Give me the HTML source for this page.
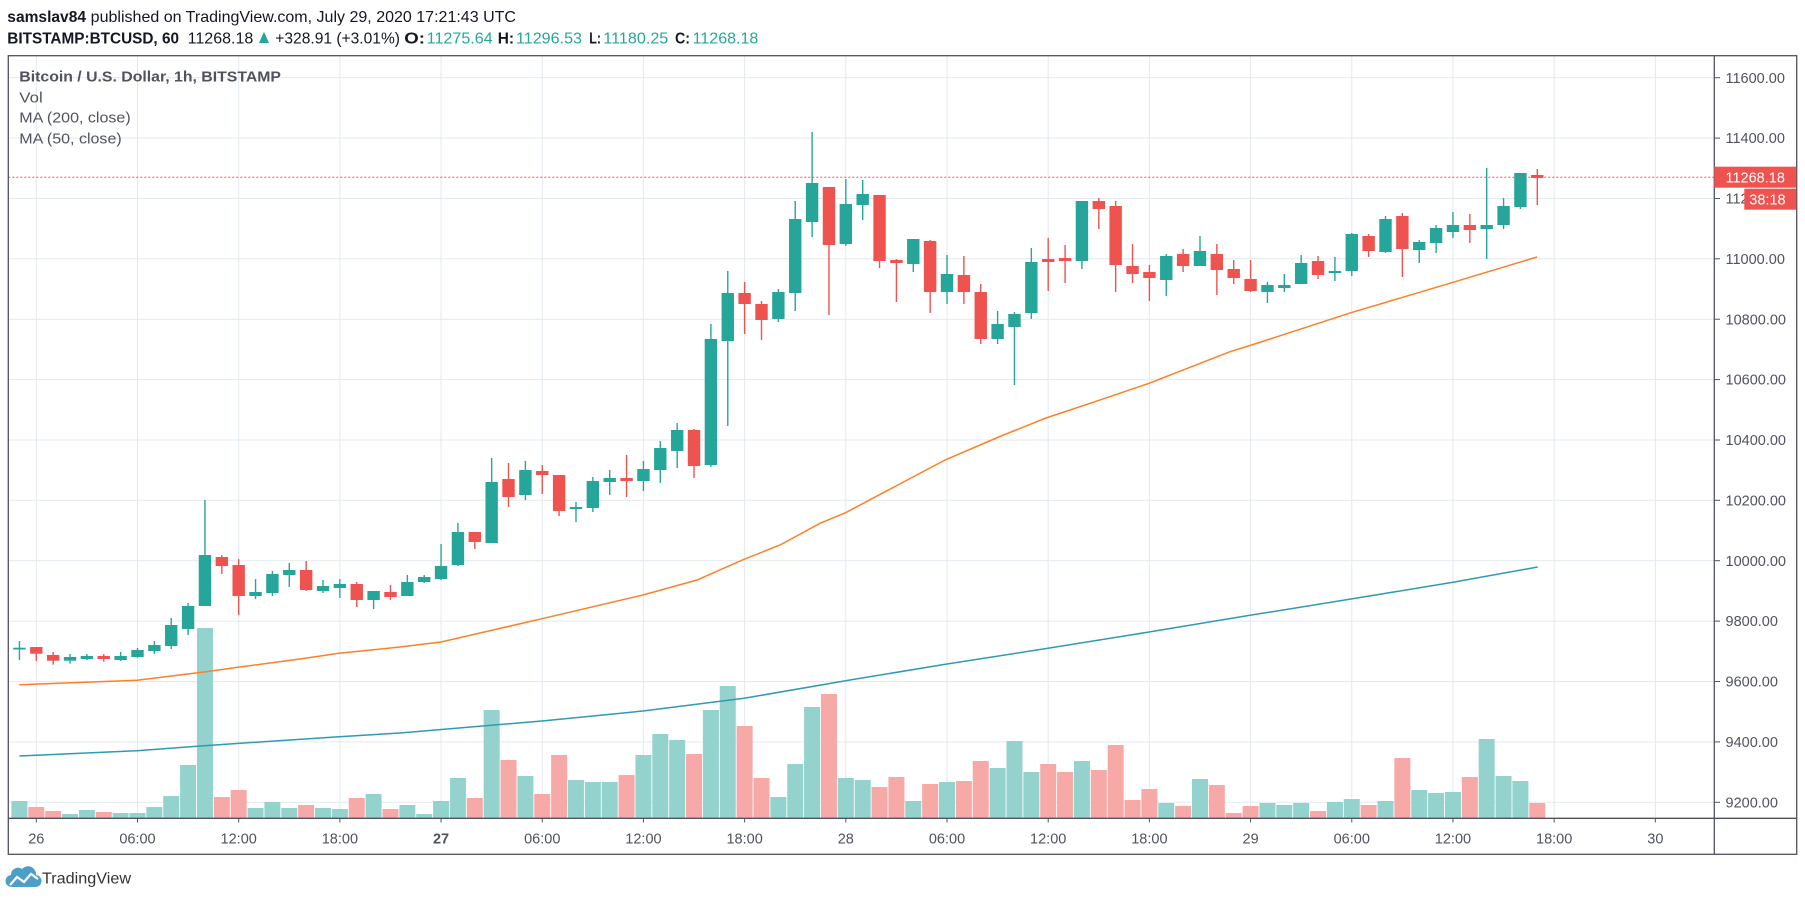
<!DOCTYPE html>
<html>
<head>
<meta charset="utf-8">
<style>
html,body{margin:0;padding:0;background:#fff;}
svg{display:block;}
text{font-family:"Liberation Sans",sans-serif;}
.u{fill:#26a69a;}
.d{fill:#ef5350;}
.vu{fill:#94d3cd;}
.vd{fill:#f7a9a8;}
.ax{fill:#50535e;font-size:14.5px;}
</style>
</head>
<body>
<svg width="1805" height="901" viewBox="0 0 1805 901" xmlns="http://www.w3.org/2000/svg">
<rect x="0" y="0" width="1805" height="901" fill="#fff"/>

<!-- header -->
<text x="7.3" y="22" font-size="16" font-weight="bold" fill="#131722" textLength="78.7" lengthAdjust="spacingAndGlyphs">samslav84</text>
<text x="90.7" y="22" font-size="16" fill="#131722" textLength="425.3" lengthAdjust="spacingAndGlyphs">published on TradingView.com, July 29, 2020 17:21:43 UTC</text>
<text x="7.3" y="43.3" font-size="15.5" font-weight="bold" fill="#131722" textLength="171.7" lengthAdjust="spacingAndGlyphs">BITSTAMP:BTCUSD, 60</text>
<text x="187.7" y="43.3" font-size="15.5" fill="#131722" textLength="65.6" lengthAdjust="spacingAndGlyphs">11268.18</text>
<polygon points="259,43 269,43 264,31.7" fill="#26a69a"/>
<text x="275.3" y="43.3" font-size="15.5" fill="#131722" textLength="124.7" lengthAdjust="spacingAndGlyphs">+328.91 (+3.01%)</text>
<text x="404.3" y="43.3" font-size="15.5" font-weight="bold" fill="#131722" textLength="20.7" lengthAdjust="spacingAndGlyphs">O:</text>
<text x="426.7" y="43.3" font-size="15.5" fill="#26a69a" textLength="66" lengthAdjust="spacingAndGlyphs">11275.64</text>
<text x="497.7" y="43.3" font-size="15.5" font-weight="bold" fill="#131722" textLength="16.3" lengthAdjust="spacingAndGlyphs">H:</text>
<text x="516" y="43.3" font-size="15.5" fill="#26a69a" textLength="66" lengthAdjust="spacingAndGlyphs">11296.53</text>
<text x="589.3" y="43.3" font-size="15.5" font-weight="bold" fill="#131722" textLength="11.7" lengthAdjust="spacingAndGlyphs">L:</text>
<text x="603.3" y="43.3" font-size="15.5" fill="#26a69a" textLength="65" lengthAdjust="spacingAndGlyphs">11180.25</text>
<text x="675" y="43.3" font-size="15.5" font-weight="bold" fill="#131722" textLength="15" lengthAdjust="spacingAndGlyphs">C:</text>
<text x="692.7" y="43.3" font-size="15.5" fill="#26a69a" textLength="65.6" lengthAdjust="spacingAndGlyphs">11268.18</text>

<!-- grid -->
<g stroke="#e2e9ef" stroke-width="1">
<line x1="8.3" x2="1714.3" y1="77.7" y2="77.7"/>
<line x1="8.3" x2="1714.3" y1="138.1" y2="138.1"/>
<line x1="8.3" x2="1714.3" y1="198.5" y2="198.5"/>
<line x1="8.3" x2="1714.3" y1="258.8" y2="258.8"/>
<line x1="8.3" x2="1714.3" y1="319.2" y2="319.2"/>
<line x1="8.3" x2="1714.3" y1="379.6" y2="379.6"/>
<line x1="8.3" x2="1714.3" y1="440" y2="440"/>
<line x1="8.3" x2="1714.3" y1="500.3" y2="500.3"/>
<line x1="8.3" x2="1714.3" y1="560.7" y2="560.7"/>
<line x1="8.3" x2="1714.3" y1="621.1" y2="621.1"/>
<line x1="8.3" x2="1714.3" y1="681.5" y2="681.5"/>
<line x1="8.3" x2="1714.3" y1="741.9" y2="741.9"/>
<line x1="8.3" x2="1714.3" y1="802.3" y2="802.3"/>
<line y1="55.7" y2="818.3" x1="36.3" x2="36.3"/>
<line y1="55.7" y2="818.3" x1="137.49" x2="137.49"/>
<line y1="55.7" y2="818.3" x1="238.68" x2="238.68"/>
<line y1="55.7" y2="818.3" x1="339.87" x2="339.87"/>
<line y1="55.7" y2="818.3" x1="441.06" x2="441.06"/>
<line y1="55.7" y2="818.3" x1="542.25" x2="542.25"/>
<line y1="55.7" y2="818.3" x1="643.44" x2="643.44"/>
<line y1="55.7" y2="818.3" x1="744.63" x2="744.63"/>
<line y1="55.7" y2="818.3" x1="845.82" x2="845.82"/>
<line y1="55.7" y2="818.3" x1="947.01" x2="947.01"/>
<line y1="55.7" y2="818.3" x1="1048.2" x2="1048.2"/>
<line y1="55.7" y2="818.3" x1="1149.39" x2="1149.39"/>
<line y1="55.7" y2="818.3" x1="1250.58" x2="1250.58"/>
<line y1="55.7" y2="818.3" x1="1351.77" x2="1351.77"/>
<line y1="55.7" y2="818.3" x1="1452.96" x2="1452.96"/>
<line y1="55.7" y2="818.3" x1="1554.15" x2="1554.15"/>
<line y1="55.7" y2="818.3" x1="1655.34" x2="1655.34"/>
</g>

<!-- pane legend -->
<text x="19.3" y="81.7" font-size="15" font-weight="bold" fill="#50535e" textLength="261.7" lengthAdjust="spacingAndGlyphs">Bitcoin / U.S. Dollar, 1h, BITSTAMP</text>
<text x="19.3" y="102.7" font-size="15" fill="#50535e" textLength="23.4" lengthAdjust="spacingAndGlyphs">Vol</text>
<text x="19.3" y="122.7" font-size="15" fill="#50535e" textLength="111.4" lengthAdjust="spacingAndGlyphs">MA (200, close)</text>
<text x="19.3" y="143.3" font-size="15" fill="#50535e" textLength="102.4" lengthAdjust="spacingAndGlyphs">MA (50, close)</text>

<!-- volume green -->
<g class="vu">
<rect x="11.44" y="801" width="16" height="17.3"/>
<rect x="62.03" y="814" width="16" height="4.3"/>
<rect x="78.9" y="810" width="16" height="8.3"/>
<rect x="112.63" y="813" width="16" height="5.3"/>
<rect x="129.49" y="813" width="16" height="5.3"/>
<rect x="146.36" y="807" width="16" height="11.3"/>
<rect x="163.22" y="796" width="16" height="22.3"/>
<rect x="180.09" y="765" width="16" height="53.3"/>
<rect x="196.95" y="628" width="16" height="190.3"/>
<rect x="247.55" y="808" width="16" height="10.3"/>
<rect x="264.41" y="802" width="16" height="16.3"/>
<rect x="281.28" y="808" width="16" height="10.3"/>
<rect x="315.01" y="808" width="16" height="10.3"/>
<rect x="331.87" y="809" width="16" height="9.3"/>
<rect x="365.6" y="794" width="16" height="24.3"/>
<rect x="399.33" y="805" width="16" height="13.3"/>
<rect x="416.2" y="814" width="16" height="4.3"/>
<rect x="433.06" y="801" width="16" height="17.3"/>
<rect x="449.93" y="778" width="16" height="40.3"/>
<rect x="483.66" y="710" width="16" height="108.3"/>
<rect x="517.39" y="776" width="16" height="42.3"/>
<rect x="567.98" y="780" width="16" height="38.3"/>
<rect x="584.85" y="782" width="16" height="36.3"/>
<rect x="601.71" y="782" width="16" height="36.3"/>
<rect x="635.44" y="755" width="16" height="63.3"/>
<rect x="652.31" y="734" width="16" height="84.3"/>
<rect x="669.17" y="740" width="16" height="78.3"/>
<rect x="702.9" y="710" width="16" height="108.3"/>
<rect x="719.77" y="686" width="16" height="132.3"/>
<rect x="770.36" y="797" width="16" height="21.3"/>
<rect x="787.23" y="764" width="16" height="54.3"/>
<rect x="804.09" y="707" width="16" height="111.3"/>
<rect x="837.82" y="778" width="16" height="40.3"/>
<rect x="854.69" y="780" width="16" height="38.3"/>
<rect x="905.28" y="801" width="16" height="17.3"/>
<rect x="939.01" y="782" width="16" height="36.3"/>
<rect x="989.61" y="768" width="16" height="50.3"/>
<rect x="1006.47" y="741" width="16" height="77.3"/>
<rect x="1023.34" y="772" width="16" height="46.3"/>
<rect x="1073.93" y="761" width="16" height="57.3"/>
<rect x="1158.26" y="803" width="16" height="15.3"/>
<rect x="1191.99" y="779" width="16" height="39.3"/>
<rect x="1259.45" y="803" width="16" height="15.3"/>
<rect x="1276.31" y="805" width="16" height="13.3"/>
<rect x="1293.18" y="803" width="16" height="15.3"/>
<rect x="1326.91" y="802" width="16" height="16.3"/>
<rect x="1343.77" y="799" width="16" height="19.3"/>
<rect x="1377.5" y="801" width="16" height="17.3"/>
<rect x="1411.23" y="790" width="16" height="28.3"/>
<rect x="1428.1" y="793" width="16" height="25.3"/>
<rect x="1444.96" y="792" width="16" height="26.3"/>
<rect x="1478.69" y="739" width="16" height="79.3"/>
<rect x="1495.56" y="776" width="16" height="42.3"/>
<rect x="1512.42" y="781" width="16" height="37.3"/>
</g>
<!-- volume red -->
<g class="vd">
<rect x="28.3" y="807" width="16" height="11.3"/>
<rect x="45.17" y="811" width="16" height="7.3"/>
<rect x="95.76" y="812" width="16" height="6.3"/>
<rect x="213.82" y="797" width="16" height="21.3"/>
<rect x="230.68" y="790" width="16" height="28.3"/>
<rect x="298.14" y="805" width="16" height="13.3"/>
<rect x="348.74" y="798" width="16" height="20.3"/>
<rect x="382.47" y="809" width="16" height="9.3"/>
<rect x="466.79" y="798" width="16" height="20.3"/>
<rect x="500.52" y="760" width="16" height="58.3"/>
<rect x="534.25" y="794" width="16" height="24.3"/>
<rect x="551.12" y="755" width="16" height="63.3"/>
<rect x="618.58" y="775" width="16" height="43.3"/>
<rect x="686.04" y="754" width="16" height="64.3"/>
<rect x="736.63" y="726" width="16" height="92.3"/>
<rect x="753.5" y="778" width="16" height="40.3"/>
<rect x="820.96" y="694" width="16" height="124.3"/>
<rect x="871.55" y="787" width="16" height="31.3"/>
<rect x="888.42" y="777" width="16" height="41.3"/>
<rect x="922.15" y="784" width="16" height="34.3"/>
<rect x="955.88" y="781" width="16" height="37.3"/>
<rect x="972.74" y="761" width="16" height="57.3"/>
<rect x="1040.2" y="764" width="16" height="54.3"/>
<rect x="1057.07" y="772" width="16" height="46.3"/>
<rect x="1090.8" y="770" width="16" height="48.3"/>
<rect x="1107.66" y="745" width="16" height="73.3"/>
<rect x="1124.53" y="800" width="16" height="18.3"/>
<rect x="1141.39" y="789" width="16" height="29.3"/>
<rect x="1175.12" y="806" width="16" height="12.3"/>
<rect x="1208.85" y="785" width="16" height="33.3"/>
<rect x="1225.72" y="813" width="16" height="5.3"/>
<rect x="1242.58" y="806" width="16" height="12.3"/>
<rect x="1310.04" y="811" width="16" height="7.3"/>
<rect x="1360.64" y="805" width="16" height="13.3"/>
<rect x="1394.37" y="758" width="16" height="60.3"/>
<rect x="1461.83" y="777" width="16" height="41.3"/>
<rect x="1529.29" y="803" width="16" height="15.3"/>
</g>

<!-- moving averages -->
<polyline fill="none" stroke="#2f9ab3" stroke-width="1.5" points="19.4,756 137,750.7 204,745.7 339,736.7 400,733 542,721 643,711 744,698.3 850,680 947,664 1048,648.3 1149,632 1250,615.3 1351,599 1453,582.3 1537.7,567"/>
<polyline fill="none" stroke="#ff7f26" stroke-width="1.5" points="19.4,684.7 137,680.3 204,672 238,667.3 300,659 339,653.3 400,647 441,642 542,618.7 643,595 697,580 744,559.3 780,545 820,523.3 845,513 945,460 1001,436 1046,418 1102,399.3 1149,383.3 1230,351.7 1250,345.5 1351,312.7 1453,282.3 1537,257"/>

<!-- candles green -->
<g class="u">
<rect x="18.74" y="641" width="1.4" height="19"/><rect x="13.24" y="647.7" width="12.4" height="1.8"/>
<rect x="69.33" y="654" width="1.4" height="9.7"/><rect x="63.83" y="657" width="12.4" height="3.7"/>
<rect x="86.2" y="654" width="1.4" height="6"/><rect x="80.7" y="656" width="12.4" height="3"/>
<rect x="119.93" y="652" width="1.4" height="9"/><rect x="114.43" y="656" width="12.4" height="4"/>
<rect x="136.79" y="648" width="1.4" height="10"/><rect x="131.29" y="650" width="12.4" height="7"/>
<rect x="153.66" y="641" width="1.4" height="13"/><rect x="148.16" y="645" width="12.4" height="6"/>
<rect x="170.52" y="618" width="1.4" height="31"/><rect x="165.02" y="625" width="12.4" height="21"/>
<rect x="187.39" y="603" width="1.4" height="32"/><rect x="181.89" y="606" width="12.4" height="23"/>
<rect x="204.25" y="500" width="1.4" height="106"/><rect x="198.75" y="555" width="12.4" height="51"/>
<rect x="254.85" y="579" width="1.4" height="20"/><rect x="249.35" y="592" width="12.4" height="4"/>
<rect x="271.71" y="571" width="1.4" height="25"/><rect x="266.21" y="574" width="12.4" height="19"/>
<rect x="288.58" y="563" width="1.4" height="24"/><rect x="283.08" y="570" width="12.4" height="5"/>
<rect x="322.31" y="580" width="1.4" height="13"/><rect x="316.81" y="586" width="12.4" height="5"/>
<rect x="339.17" y="579" width="1.4" height="19"/><rect x="333.67" y="584" width="12.4" height="4"/>
<rect x="372.9" y="591" width="1.4" height="18"/><rect x="367.4" y="591" width="12.4" height="9"/>
<rect x="406.63" y="575" width="1.4" height="21"/><rect x="401.13" y="582" width="12.4" height="14"/>
<rect x="423.5" y="575" width="1.4" height="8"/><rect x="418" y="577" width="12.4" height="5"/>
<rect x="440.36" y="544" width="1.4" height="36"/><rect x="434.86" y="566" width="12.4" height="13"/>
<rect x="457.23" y="523" width="1.4" height="43"/><rect x="451.73" y="532" width="12.4" height="33"/>
<rect x="490.96" y="458" width="1.4" height="85"/><rect x="485.46" y="482" width="12.4" height="61"/>
<rect x="524.69" y="461" width="1.4" height="39"/><rect x="519.19" y="470" width="12.4" height="25"/>
<rect x="575.28" y="502" width="1.4" height="20"/><rect x="569.78" y="507" width="12.4" height="2"/>
<rect x="592.15" y="477" width="1.4" height="35"/><rect x="586.65" y="481" width="12.4" height="27"/>
<rect x="609.01" y="470" width="1.4" height="25"/><rect x="603.51" y="478" width="12.4" height="4"/>
<rect x="642.74" y="461" width="1.4" height="30"/><rect x="637.24" y="469" width="12.4" height="12"/>
<rect x="659.61" y="441" width="1.4" height="42"/><rect x="654.11" y="448" width="12.4" height="22"/>
<rect x="676.47" y="423" width="1.4" height="45"/><rect x="670.97" y="430" width="12.4" height="21"/>
<rect x="710.2" y="324" width="1.4" height="143"/><rect x="704.7" y="339" width="12.4" height="126"/>
<rect x="727.07" y="271" width="1.4" height="155"/><rect x="721.57" y="293" width="12.4" height="48"/>
<rect x="777.66" y="289" width="1.4" height="33"/><rect x="772.16" y="292" width="12.4" height="27"/>
<rect x="794.53" y="201" width="1.4" height="110"/><rect x="789.03" y="219" width="12.4" height="74"/>
<rect x="811.39" y="132" width="1.4" height="105"/><rect x="805.89" y="183" width="12.4" height="39"/>
<rect x="845.12" y="179" width="1.4" height="67"/><rect x="839.62" y="204" width="12.4" height="40"/>
<rect x="861.99" y="180" width="1.4" height="40"/><rect x="856.49" y="194" width="12.4" height="11"/>
<rect x="912.58" y="239" width="1.4" height="33"/><rect x="907.08" y="239" width="12.4" height="25"/>
<rect x="946.31" y="255" width="1.4" height="49"/><rect x="940.81" y="274" width="12.4" height="18"/>
<rect x="996.91" y="311" width="1.4" height="33"/><rect x="991.41" y="324" width="12.4" height="15"/>
<rect x="1013.77" y="312" width="1.4" height="73"/><rect x="1008.27" y="314" width="12.4" height="13"/>
<rect x="1030.64" y="248" width="1.4" height="71"/><rect x="1025.14" y="262" width="12.4" height="51"/>
<rect x="1081.23" y="201" width="1.4" height="68"/><rect x="1075.73" y="201" width="12.4" height="60"/>
<rect x="1165.56" y="254" width="1.4" height="42"/><rect x="1160.06" y="256" width="12.4" height="24"/>
<rect x="1199.29" y="236" width="1.4" height="30"/><rect x="1193.79" y="251" width="12.4" height="15"/>
<rect x="1266.75" y="282" width="1.4" height="21"/><rect x="1261.25" y="285" width="12.4" height="7"/>
<rect x="1283.61" y="274" width="1.4" height="18"/><rect x="1278.11" y="285" width="12.4" height="3"/>
<rect x="1300.48" y="255" width="1.4" height="29"/><rect x="1294.98" y="263" width="12.4" height="21"/>
<rect x="1334.21" y="257" width="1.4" height="24"/><rect x="1328.71" y="271" width="12.4" height="2"/>
<rect x="1351.07" y="233" width="1.4" height="43"/><rect x="1345.57" y="234" width="12.4" height="37"/>
<rect x="1384.8" y="216" width="1.4" height="37"/><rect x="1379.3" y="219" width="12.4" height="33"/>
<rect x="1418.53" y="240" width="1.4" height="23"/><rect x="1413.03" y="242" width="12.4" height="8"/>
<rect x="1435.4" y="225" width="1.4" height="28"/><rect x="1429.9" y="228" width="12.4" height="15"/>
<rect x="1452.26" y="212" width="1.4" height="26"/><rect x="1446.76" y="225" width="12.4" height="7"/>
<rect x="1485.99" y="168" width="1.4" height="91"/><rect x="1480.49" y="225" width="12.4" height="4"/>
<rect x="1502.86" y="198" width="1.4" height="31"/><rect x="1497.36" y="206" width="12.4" height="19"/>
<rect x="1519.72" y="173" width="1.4" height="36"/><rect x="1514.22" y="173" width="12.4" height="34"/>
</g>
<!-- candles red -->
<g class="d">
<rect x="35.6" y="647" width="1.4" height="14"/><rect x="30.1" y="647" width="12.4" height="6.7"/>
<rect x="52.47" y="652" width="1.4" height="12.7"/><rect x="46.97" y="655" width="12.4" height="5.7"/>
<rect x="103.06" y="654" width="1.4" height="7.7"/><rect x="97.56" y="656" width="12.4" height="3"/>
<rect x="221.12" y="555" width="1.4" height="19"/><rect x="215.62" y="557" width="12.4" height="9"/>
<rect x="237.98" y="559" width="1.4" height="56"/><rect x="232.48" y="565" width="12.4" height="31"/>
<rect x="305.44" y="561" width="1.4" height="30"/><rect x="299.94" y="570" width="12.4" height="20"/>
<rect x="356.04" y="582" width="1.4" height="25"/><rect x="350.54" y="584" width="12.4" height="16"/>
<rect x="389.77" y="585" width="1.4" height="15"/><rect x="384.27" y="592" width="12.4" height="5"/>
<rect x="474.09" y="532" width="1.4" height="17"/><rect x="468.59" y="532" width="12.4" height="10"/>
<rect x="507.82" y="463" width="1.4" height="44"/><rect x="502.32" y="479" width="12.4" height="18"/>
<rect x="541.55" y="465" width="1.4" height="29"/><rect x="536.05" y="471" width="12.4" height="4"/>
<rect x="558.42" y="475" width="1.4" height="41"/><rect x="552.92" y="475" width="12.4" height="36"/>
<rect x="625.88" y="455" width="1.4" height="42"/><rect x="620.38" y="478" width="12.4" height="3"/>
<rect x="693.34" y="429" width="1.4" height="49"/><rect x="687.84" y="430" width="12.4" height="36"/>
<rect x="743.93" y="282" width="1.4" height="52"/><rect x="738.43" y="293" width="12.4" height="11"/>
<rect x="760.8" y="301" width="1.4" height="39"/><rect x="755.3" y="304" width="12.4" height="16"/>
<rect x="828.26" y="187" width="1.4" height="128"/><rect x="822.76" y="187" width="12.4" height="58"/>
<rect x="878.85" y="195" width="1.4" height="73"/><rect x="873.35" y="195" width="12.4" height="66"/>
<rect x="895.72" y="259" width="1.4" height="43"/><rect x="890.22" y="260" width="12.4" height="3"/>
<rect x="929.45" y="240" width="1.4" height="73"/><rect x="923.95" y="241" width="12.4" height="51"/>
<rect x="963.18" y="256" width="1.4" height="48"/><rect x="957.68" y="275" width="12.4" height="17"/>
<rect x="980.04" y="284" width="1.4" height="60"/><rect x="974.54" y="292" width="12.4" height="47"/>
<rect x="1047.5" y="238" width="1.4" height="53"/><rect x="1042" y="259" width="12.4" height="3"/>
<rect x="1064.37" y="245" width="1.4" height="38"/><rect x="1058.87" y="258" width="12.4" height="3"/>
<rect x="1098.1" y="198" width="1.4" height="31"/><rect x="1092.6" y="201" width="12.4" height="8"/>
<rect x="1114.96" y="201" width="1.4" height="91"/><rect x="1109.46" y="206" width="12.4" height="59"/>
<rect x="1131.83" y="244" width="1.4" height="39"/><rect x="1126.33" y="266" width="12.4" height="8"/>
<rect x="1148.69" y="265" width="1.4" height="36"/><rect x="1143.19" y="272" width="12.4" height="6"/>
<rect x="1182.42" y="249" width="1.4" height="23"/><rect x="1176.92" y="254" width="12.4" height="12"/>
<rect x="1216.15" y="244" width="1.4" height="51"/><rect x="1210.65" y="254" width="12.4" height="16"/>
<rect x="1233.02" y="260" width="1.4" height="24"/><rect x="1227.52" y="269" width="12.4" height="9"/>
<rect x="1249.88" y="260" width="1.4" height="32"/><rect x="1244.38" y="279" width="12.4" height="12"/>
<rect x="1317.34" y="256" width="1.4" height="23"/><rect x="1311.84" y="261" width="12.4" height="14"/>
<rect x="1367.94" y="234" width="1.4" height="23"/><rect x="1362.44" y="236" width="12.4" height="15"/>
<rect x="1401.67" y="213" width="1.4" height="64"/><rect x="1396.17" y="216" width="12.4" height="33"/>
<rect x="1469.13" y="214" width="1.4" height="29"/><rect x="1463.63" y="225" width="12.4" height="5"/>
<rect x="1536.59" y="169" width="1.4" height="36"/><rect x="1531.09" y="175" width="12.4" height="3"/>
</g>

<!-- current price line -->
<line x1="8.3" x2="1714.3" y1="177.3" y2="177.3" stroke="#ef5350" stroke-width="1" stroke-dasharray="2,2"/>

<!-- frame -->
<g stroke="#50535e" stroke-width="1.3" fill="none">
<rect x="8.3" y="55.7" width="1788.4" height="798.6"/>
<line x1="8.3" x2="1796.7" y1="818.3" y2="818.3"/>
<line x1="1714.3" x2="1714.3" y1="55.7" y2="854.3"/>
</g>

<!-- price axis ticks -->
<g stroke="#50535e" stroke-width="1">
<line x1="1714.3" x2="1720" y1="77.7" y2="77.7"/>
<line x1="1714.3" x2="1720" y1="138.1" y2="138.1"/>
<line x1="1714.3" x2="1720" y1="198.5" y2="198.5"/>
<line x1="1714.3" x2="1720" y1="258.8" y2="258.8"/>
<line x1="1714.3" x2="1720" y1="319.2" y2="319.2"/>
<line x1="1714.3" x2="1720" y1="379.6" y2="379.6"/>
<line x1="1714.3" x2="1720" y1="440" y2="440"/>
<line x1="1714.3" x2="1720" y1="500.3" y2="500.3"/>
<line x1="1714.3" x2="1720" y1="560.7" y2="560.7"/>
<line x1="1714.3" x2="1720" y1="621.1" y2="621.1"/>
<line x1="1714.3" x2="1720" y1="681.5" y2="681.5"/>
<line x1="1714.3" x2="1720" y1="741.9" y2="741.9"/>
<line x1="1714.3" x2="1720" y1="802.3" y2="802.3"/>
</g>
<!-- price labels -->
<g class="ax">
<text x="1725.5" y="82.8">11600.00</text>
<text x="1725.5" y="143.2">11400.00</text>
<text x="1725.5" y="203.6">11200.00</text>
<text x="1725.5" y="263.9">11000.00</text>
<text x="1725.5" y="324.3">10800.00</text>
<text x="1725.5" y="384.7">10600.00</text>
<text x="1725.5" y="445.1">10400.00</text>
<text x="1725.5" y="505.4">10200.00</text>
<text x="1725.5" y="565.8">10000.00</text>
<text x="1725.5" y="626.2">9800.00</text>
<text x="1725.5" y="686.6">9600.00</text>
<text x="1725.5" y="747">9400.00</text>
<text x="1725.5" y="807.4">9200.00</text>
</g>
<!-- current price badges -->
<rect x="1714.3" y="166.7" width="82" height="21" fill="#ef5350"/>
<text x="1725.5" y="182.4" font-size="14.5" fill="#fff">11268.18</text>
<rect x="1744.3" y="188.7" width="52" height="21" fill="#ef5350"/>
<text x="1749.3" y="204.4" font-size="14.5" fill="#fff">38:18</text>

<!-- time axis ticks -->
<g stroke="#50535e" stroke-width="1">
<line y1="818.3" y2="822.5" x1="36.3" x2="36.3"/>
<line y1="818.3" y2="822.5" x1="137.49" x2="137.49"/>
<line y1="818.3" y2="822.5" x1="238.68" x2="238.68"/>
<line y1="818.3" y2="822.5" x1="339.87" x2="339.87"/>
<line y1="818.3" y2="822.5" x1="441.06" x2="441.06"/>
<line y1="818.3" y2="822.5" x1="542.25" x2="542.25"/>
<line y1="818.3" y2="822.5" x1="643.44" x2="643.44"/>
<line y1="818.3" y2="822.5" x1="744.63" x2="744.63"/>
<line y1="818.3" y2="822.5" x1="845.82" x2="845.82"/>
<line y1="818.3" y2="822.5" x1="947.01" x2="947.01"/>
<line y1="818.3" y2="822.5" x1="1048.2" x2="1048.2"/>
<line y1="818.3" y2="822.5" x1="1149.39" x2="1149.39"/>
<line y1="818.3" y2="822.5" x1="1250.58" x2="1250.58"/>
<line y1="818.3" y2="822.5" x1="1351.77" x2="1351.77"/>
<line y1="818.3" y2="822.5" x1="1452.96" x2="1452.96"/>
<line y1="818.3" y2="822.5" x1="1554.15" x2="1554.15"/>
<line y1="818.3" y2="822.5" x1="1655.34" x2="1655.34"/>
</g>
<g class="ax" text-anchor="middle">
<text x="36.3" y="843.3">26</text>
<text x="137.49" y="843.3">06:00</text>
<text x="238.68" y="843.3">12:00</text>
<text x="339.87" y="843.3">18:00</text>
<text x="441.06" y="843.3" font-weight="bold">27</text>
<text x="542.25" y="843.3">06:00</text>
<text x="643.44" y="843.3">12:00</text>
<text x="744.63" y="843.3">18:00</text>
<text x="845.82" y="843.3">28</text>
<text x="947.01" y="843.3">06:00</text>
<text x="1048.2" y="843.3">12:00</text>
<text x="1149.39" y="843.3">18:00</text>
<text x="1250.58" y="843.3">29</text>
<text x="1351.77" y="843.3">06:00</text>
<text x="1452.96" y="843.3">12:00</text>
<text x="1554.15" y="843.3">18:00</text>
<text x="1655.34" y="843.3">30</text>
</g>

<!-- TradingView logo -->
<path d="M12,887 L35,887 A6,6 0 0 0 36,875 A8,8 0 0 0 22,869 A7,7 0 0 0 11,875 A6,6 0 0 0 12,887 Z" fill="#4d9fca"/>
<polyline points="10,885 17,877 24,882 31,874 38,879" fill="none" stroke="#fff" stroke-width="2.2"/>
<text x="42" y="883.3" font-size="16" fill="#333" textLength="89" lengthAdjust="spacingAndGlyphs">TradingView</text>
</svg>
</body>
</html>
